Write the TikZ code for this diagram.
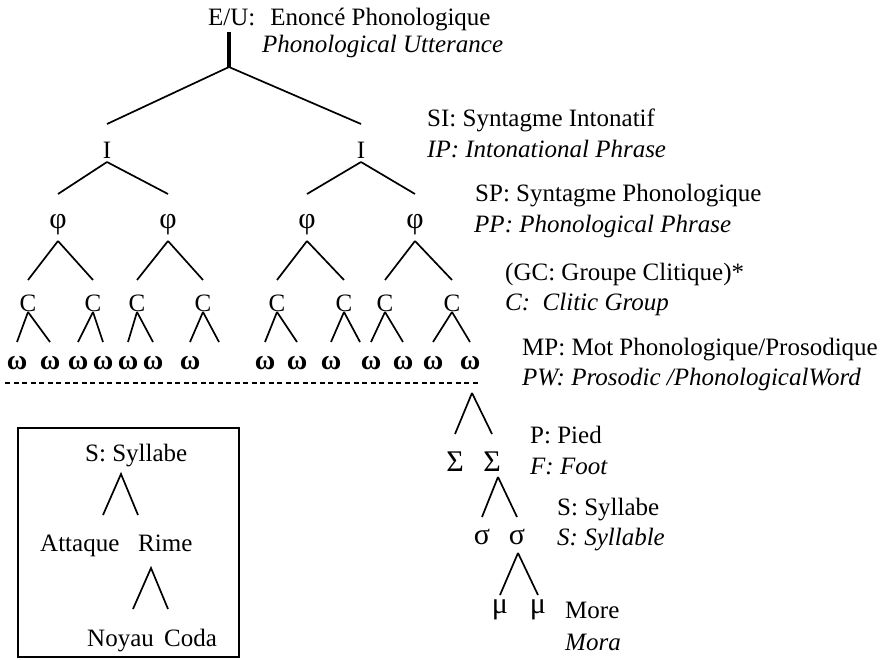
\documentclass[tikz,border=0pt]{standalone}
\usepackage{fontspec}
\setmainfont{Liberation Serif}
\usepackage{tikz}
\usetikzlibrary{positioning, calc}
\newcommand{\lfont}{\fontsize{25}{30}\selectfont}
\newcommand{\gfont}{\fontsize{30}{30}\selectfont}

\begin{document}
\begin{tikzpicture}[x=1pt, y=-1pt,
    font=\lfont,
    lab/.style={anchor=base west, inner sep=0pt},
    en/.style={lab, font=\lfont\itshape},
    sym/.style={inner sep=0pt},
    gsym/.style={inner sep=0pt, font=\gfont},
    wsym/.style={inner sep=0pt, font=\fontsize{28}{28}\selectfont\bfseries},
    br/.style={line width=1.7pt},
    stem/.style={line width=3.2pt},
    cut/.style={line width=1.1pt, dash pattern=on 5pt off 3.5pt},
    frame/.style={line width=1.3pt}]
  \useasboundingbox (0,0) rectangle (890,660);

  % the hierarchy
  \node[lab] (eu) at (208,26) {E/U:\hspace{0.6em}Enoncé Phonologique};
  \node[en] (eu-en) at (262,53) {Phonological Utterance};
  \coordinate (root) at (229,67);
  \node[sym] (i1) at (107,150) {I};
  \node[sym] (i2) at (361,150) {I};
  \foreach \n/\x in {p1/58, p2/168, p3/307, p4/415}
    \node[gsym] (\n) at (\x,225) {φ};
  \foreach \n/\x in {c1/28, c2/93, c3/137, c4/203, c5/277, c6/344, c7/385, c8/452}
    \node[sym] (\n) at (\x,303) {C};
  \foreach \n/\x in {w1/17, w2/50, w3/78, w4/103, w5/128, w6/153, w7/190,
                     w8/265, w9/297, w10/331, w11/371, w12/403, w13/433, w14/470}
    \node[wsym] (\n) at (\x,363) {ω};

  \draw[stem] (eu.south -| root) -- (root);
  \foreach \b in {i1, i2}
    \draw[br] (root) -- ([yshift=26pt]\b.center);
  \foreach \a/\b in {i1/p1, i1/p2, i2/p3, i2/p4}
    \draw[br] ([yshift=-12pt]\a.center) -- ([yshift=31pt]\b.center);
  \foreach \a/\b in {p1/c1, p1/c2, p2/c3, p2/c4, p3/c5, p3/c6, p4/c7, p4/c8}
    \draw[br] ([yshift=-16pt]\a.center) -- ([yshift=23pt]\b.center);
  \foreach \a/\b in {c1/w1, c1/w2, c2/w3, c2/w4, c3/w5, c3/w6, c4/w7, c5/w8,
                     c5/w9, c6/w10, c7/w11, c7/w12, c8/w13, c8/w14}
    \draw[br] ([yshift=-9pt]\a.center) -- ([yshift=21pt]\b.center);
  \coordinate (c4r) at (219,342);
  \coordinate (c6r) at (360,342);
  \draw[br] ([yshift=-9pt]c4.center) -- (c4r);
  \draw[br] ([yshift=-9pt]c6.center) -- (c6r);

  \coordinate (cut-l) at (5,383);
  \coordinate (cut-r) at (478,383);
  \draw[cut] (cut-l) -- (cut-r);

  % below the word
  \node[gsym] (f1) at (455,462) {Σ};
  \node[gsym] (f2) at (492,462) {Σ};
  \node[gsym] (s1) at (482,537) {σ};
  \node[gsym] (s2) at (517,537) {σ};
  \node[gsym] (m1) at (500,610) {μ};
  \node[gsym] (m2) at (538,610) {μ};
  \foreach \b in {f1, f2}
    \draw[br] ([xshift=2pt, yshift=-30pt]w14.center) -- ([yshift=28pt]\b.center);
  \foreach \b in {s1, s2}
    \draw[br] ([xshift=6pt, yshift=-15pt]f2.center) -- ([yshift=20pt]\b.center);
  \foreach \b in {m1, m2}
    \draw[br] ([xshift=1pt, yshift=-16pt]s2.center) -- ([yshift=15pt]\b.center);

  % level names
  \node[lab] (si) at (427,127) {SI: Syntagme Intonatif};
  \node[en] (ip) at (427,158) {IP: Intonational Phrase};
  \node[lab] (sp) at (475,201) {SP: Syntagme Phonologique};
  \node[en] (pp) at (474,233) {PP: Phonological Phrase};
  \node[lab] (gc) at (505,280) {(GC: Groupe Clitique)*};
  \node[en] (cg) at (505,310) {C:\hspace{0.5em}Clitic Group};
  \node[lab] (mp) at (522,355) {MP: Mot Phonologique/Prosodique};
  \node[en] (pw) at (522,385) {PW: Prosodic /PhonologicalWord};
  \node[lab] (pied) at (530,443) {P: Pied};
  \node[en] (foot) at (530,474) {F: Foot};
  \node[lab] (syl) at (557,515) {S: Syllabe};
  \node[en] (syl-en) at (557,545) {S: Syllable};
  \node[lab] (more) at (565,618) {More};
  \node[en] (mora) at (565,650) {Mora};

  % syllable box
  \draw[frame] (18,428) rectangle (239,657);
  \node[lab] (bsyl) at (85,461) {S: Syllabe};
  \node[lab] (att) at (40,551) {Attaque};
  \node[lab] (rime) at (138,551) {Rime};
  \node[lab] (noy) at (87,646) {Noyau};
  \node[lab] (coda) at (164,646) {Coda};
  \coordinate (bsyl-a) at (121,474);
  \coordinate (bsyl-l) at (103,515);
  \coordinate (bsyl-r) at (138,515);
  \coordinate (rime-a) at (151,568);
  \coordinate (rime-l) at (133,609);
  \coordinate (rime-r) at (168,609);
  \draw[br] (bsyl-l) -- (bsyl-a) -- (bsyl-r);
  \draw[br] (rime-l) -- (rime-a) -- (rime-r);
\end{tikzpicture}
\end{document}
